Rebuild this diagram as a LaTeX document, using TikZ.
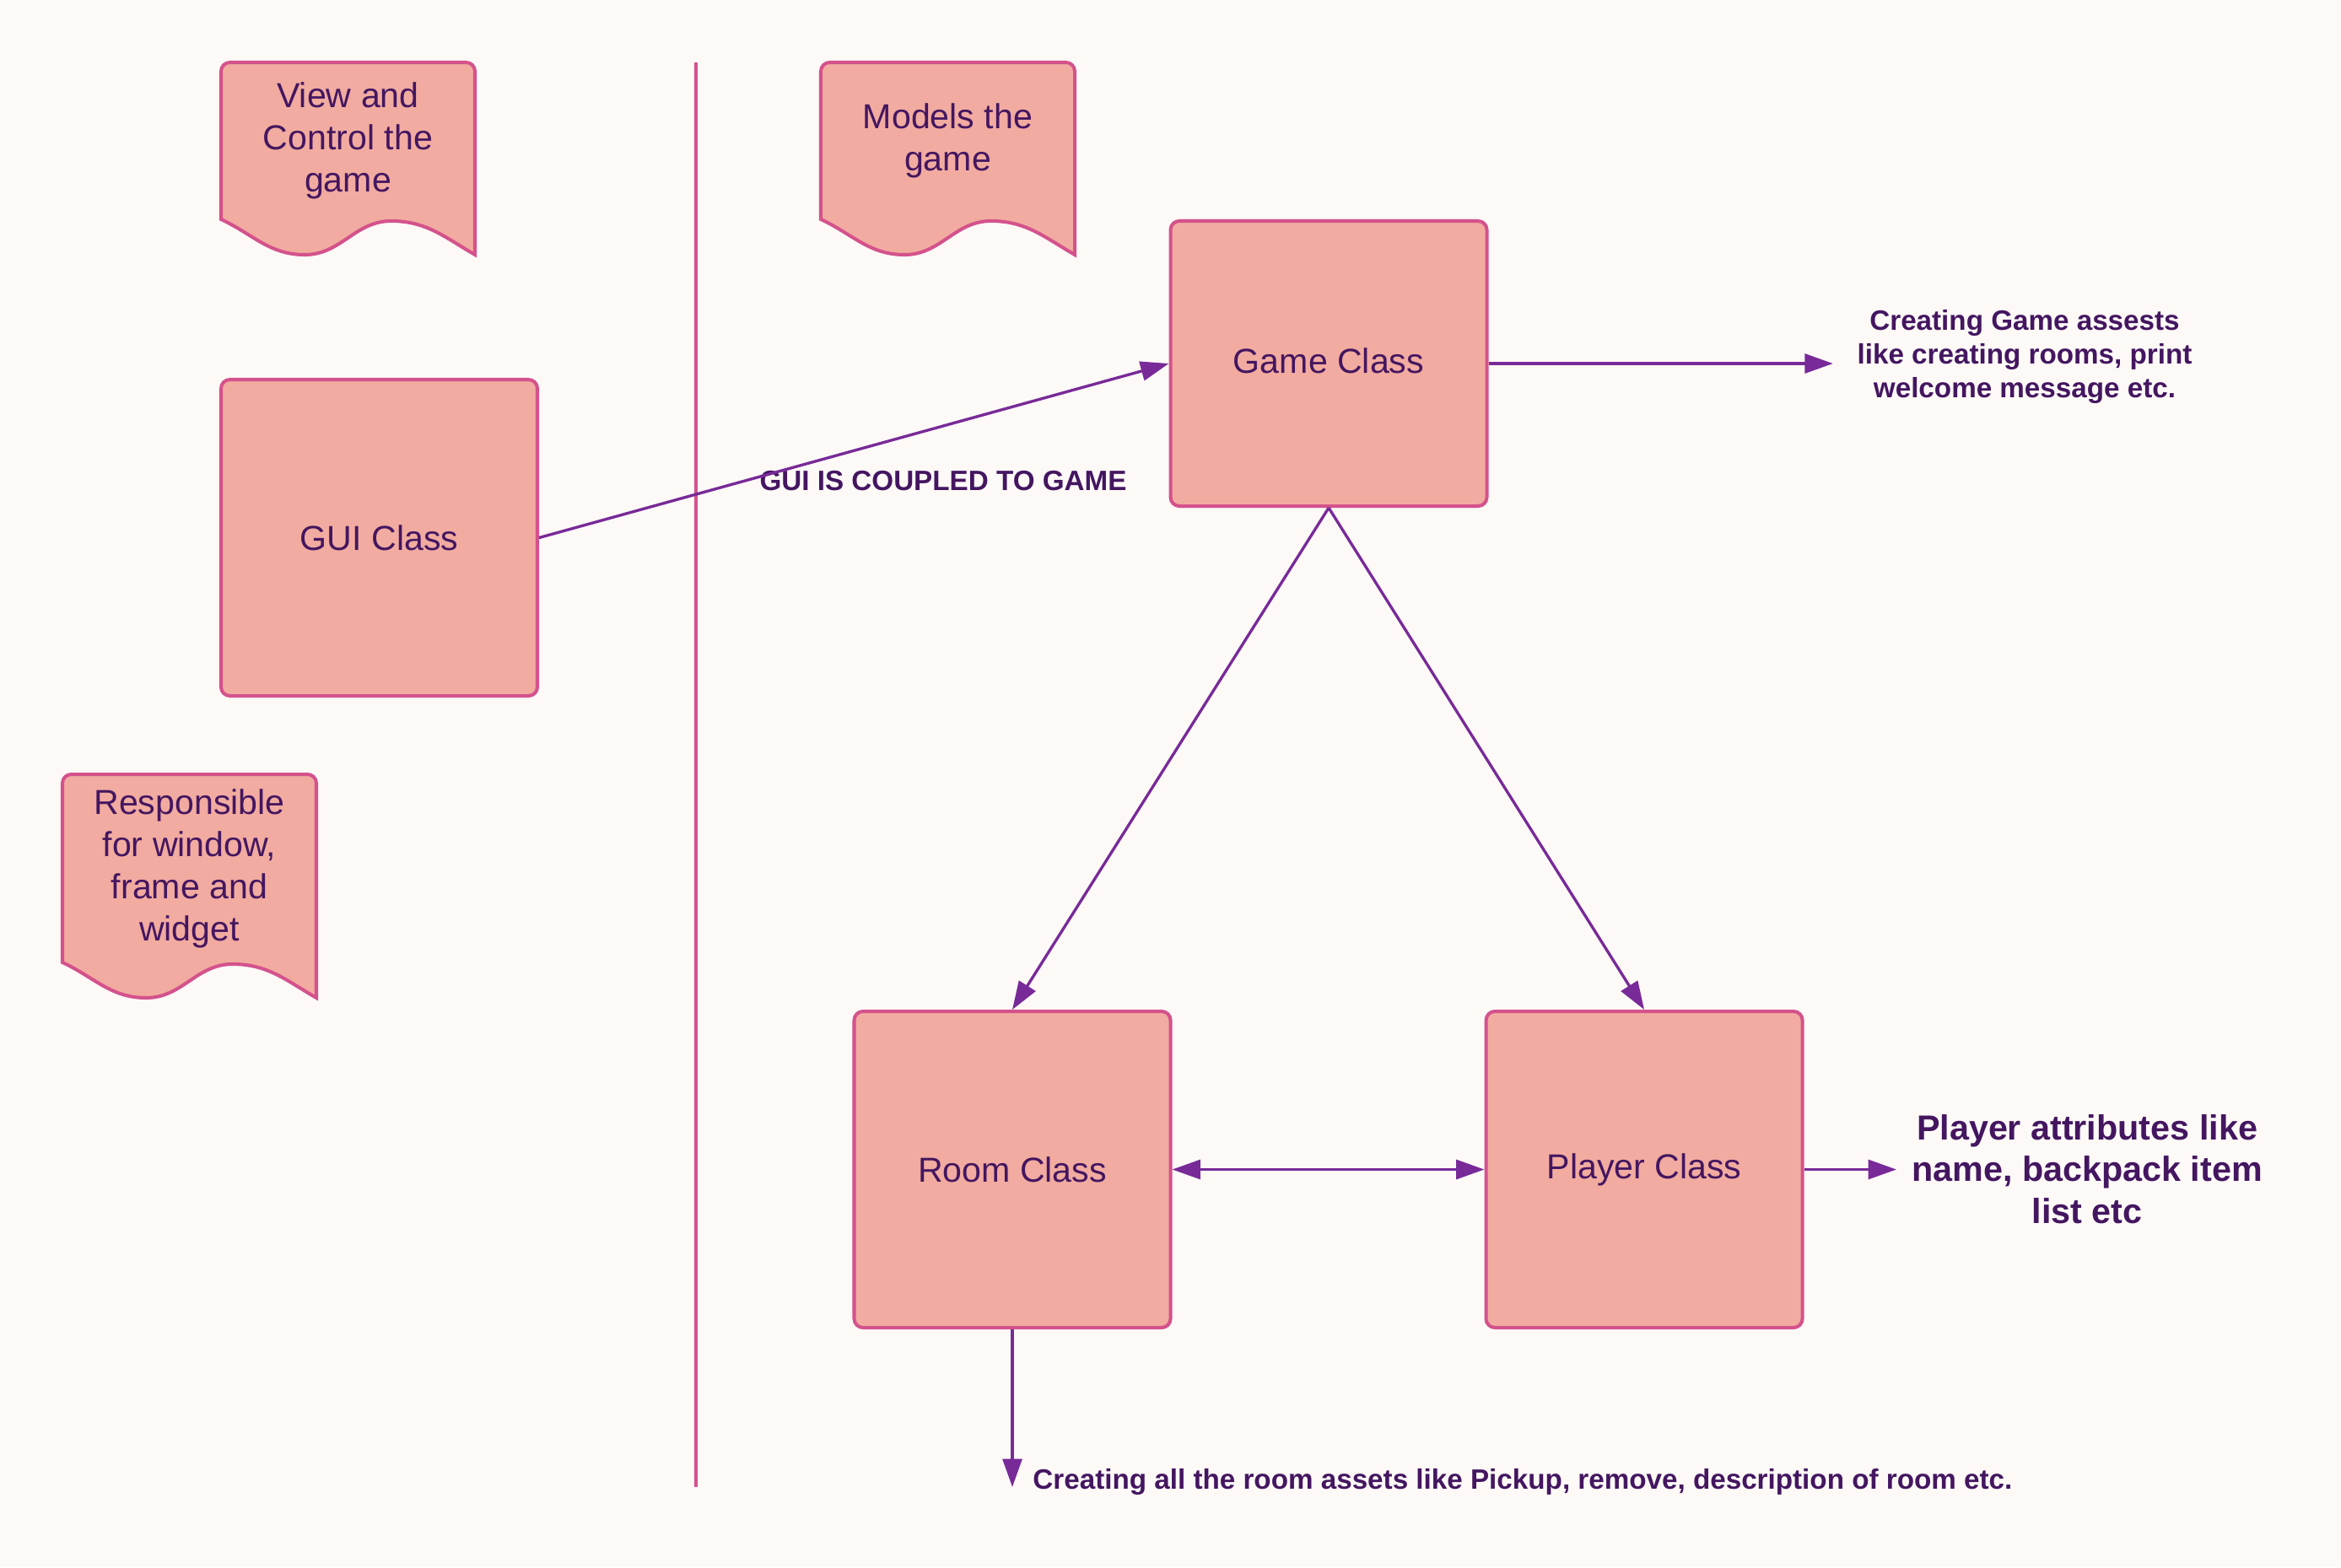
\documentclass[tikz,border=0pt]{standalone}
\usepackage{fontspec}
\setmainfont{Liberation Sans}
\usepackage{tikz}
\usetikzlibrary{arrows.meta,positioning}
\usepackage{xcolor}
\definecolor{pagebg}{RGB}{252,249,247}
\definecolor{boxfill}{RGB}{241,171,160}
\definecolor{boxline}{RGB}{212,82,140}
\definecolor{linkpurple}{RGB}{120,42,152}
\definecolor{textpurple}{RGB}{68,22,96}
\tikzstyle{classbox} = [rectangle,rounded corners=3pt,draw=boxline,line width=1.15pt,fill=boxfill,text=textpurple,minimum width=3.75cm,minimum height=3.75cm,font=\fontsize{11.7}{14.2}\selectfont]
\tikzstyle{docline} = [draw=boxline,line width=1.15pt,fill=boxfill]
\tikzstyle{doctext} = [text=textpurple,align=center,font=\fontsize{11.7}{14.2}\selectfont]
\tikzstyle{note} = [text=textpurple,align=center,font=\bfseries\fontsize{9.45}{11.3}\selectfont]
\tikzstyle{arrow} = [line width=0.95pt,-{Triangle[length=9.5pt,width=6.5pt]},color=linkpurple]

% wavy note: name, left, top, width, height, text
\newcommand{\docnote}[6]{%
  \draw[docline] (#2,{#3-#5+0.42}) [rounded corners=3pt] -- (#2,#3) -- ({#2+#4},#3) [sharp corners] -- ({#2+#4},{#3-#5})
    to[out=150,in=0] ({#2+0.67*#4},{#3-#5+0.40})
    to[out=180,in=0] ({#2+0.33*#4},{#3-#5})
    to[out=180,in=-25] (#2,{#3-#5+0.42}) -- cycle;
  \node[doctext] (#1) at ({#2+#4/2},{#3-(#5-0.42)/2}) {#6};
}

\begin{document}
\begin{tikzpicture}
\fill[pagebg] (0,0) rectangle (27.75,-18.58);
\useasboundingbox (0,0) rectangle (27.75,-18.58);

% Notes
\docnote{viewnote}{2.62}{-0.74}{3.01}{2.28}{View and\\Control the\\game}
\docnote{modelnote}{9.73}{-0.74}{3.01}{2.28}{Models the\\game}
\docnote{guinote}{0.74}{-9.18}{3.01}{2.65}{Responsible\\for window,\\frame and\\widget}

% Divider
\draw[boxline, line width=1.15pt] (8.25,-0.74) -- (8.25,-17.63);

% Classes
\node[classbox] (gui) at (4.495,-6.375) {GUI Class};
\node[classbox, minimum height=3.38cm] (game) at (15.75,-4.31) {\raisebox{2pt}{Game Class}};
\node[classbox] (room) at (12.0,-13.865) {Room Class};
\node[classbox, right=3.70cm of room] (player) {Player Class};

% Labels
\node[note, inner sep=8pt] (gamenote) at (24.0,-4.23) {Creating Game assests\\like creating rooms, print\\welcome message etc.};
\node[note, inner sep=5pt, font=\bfseries\fontsize{11.75}{14}\selectfont] (playernote) at (24.74,-13.86) {Player attributes like\\name, backpack item\\list etc};
\node[note] (coupled) at (11.18,-5.70) {GUI IS COUPLED TO GAME};
\coordinate (roomend) at (12.0,-17.63);
\node[note, anchor=west] (roomnote) at (12.12,-17.57) {Creating all the room assets like Pickup, remove, description of room etc.};

% Links
\draw[arrow] (gui.east) -- (game.west);
\draw[arrow] (game.east) -- (game.east -| gamenote.west);
\draw[arrow] (game.south) -- (room.north);
\draw[arrow] (game.south) -- (player.north);
\draw[arrow, {Triangle[length=9.5pt,width=6.5pt]}-{Triangle[length=9.5pt,width=6.5pt]}] (room.east) -- (player.west);
\draw[arrow] (player.east) -- (player.east -| playernote.west);
\draw[arrow] (room.south) -- (roomend);
\end{tikzpicture}
\end{document}
